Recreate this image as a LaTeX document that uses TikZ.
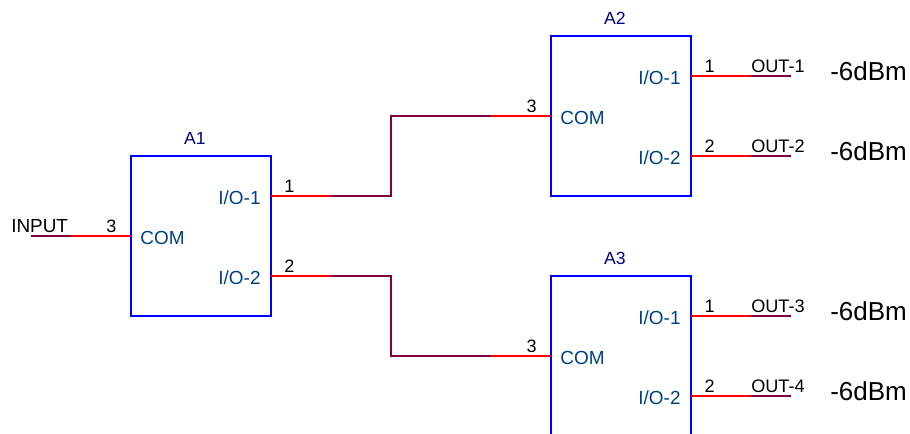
\documentclass[tikz,border=0pt]{standalone}
\usepackage{fontspec}
\setmainfont{Liberation Sans}
\definecolor{boxblue}{HTML}{0000FF}
\definecolor{refnavy}{HTML}{000080}
\definecolor{pinblue}{HTML}{004080}
\definecolor{wirered}{HTML}{FF0000}
\definecolor{wirepurple}{HTML}{800040}
\tikzset{
  block/.style={draw=boxblue,line width=1.5pt,minimum width=105pt,minimum height=120pt,inner sep=0pt,outer sep=0pt,anchor=north west},
  refname/.style={text=refnavy,font=\fontsize{13.2pt}{15pt}\selectfont,inner sep=0pt,anchor=base},
  pinname/.style={text=pinblue,font=\fontsize{14.2pt}{16pt}\selectfont,inner sep=0pt,anchor=base},
  pinnum/.style={text=black,font=\fontsize{13.5pt}{15pt}\selectfont,inner sep=0pt,anchor=base},
  netname/.style={text=black,font=\fontsize{13.6pt}{15pt}\selectfont,inner sep=0pt,anchor=base west},
  inputname/.style={netname,font=\fontsize{14.2pt}{16pt}\selectfont},
  level/.style={text=black,font=\fontsize{19.5pt}{22pt}\selectfont,inner sep=0pt,anchor=base west},
  redwire/.style={draw=wirered,line width=1.5pt},
  purplewire/.style={draw=wirepurple,line width=1.5pt,line join=miter}
}
\begin{document}
\begin{tikzpicture}[x=0.75pt,y=-0.75pt]
\useasboundingbox (0,0) rectangle (910,434);
% blocks
\node[block] (A1) at (131,156) {};
\node[block] (A2) at (551,36) {};
\node[block] (A3) at (551,276) {};
% pin coordinates
\coordinate (A1com) at (A1.north west |- 0,236);
\coordinate (A1io1) at (A1.north east |- 0,196);
\coordinate (A1io2) at (A1.north east |- 0,276);
\coordinate (A2com) at (A2.north west |- 0,116);
\coordinate (A2io1) at (A2.north east |- 0,76);
\coordinate (A2io2) at (A2.north east |- 0,156);
\coordinate (A3com) at (A3.north west |- 0,356);
\coordinate (A3io1) at (A3.north east |- 0,316);
\coordinate (A3io2) at (A3.north east |- 0,396);
% net junctions
\coordinate (inS) at (31,236);   \coordinate (inM) at (71,236);
\coordinate (n1a) at (331,196);  \coordinate (n1b) at (391,196);
\coordinate (n1c) at (391,116);  \coordinate (n1d) at (491,116);
\coordinate (n2a) at (331,276);  \coordinate (n2b) at (391,276);
\coordinate (n2c) at (391,356);  \coordinate (n2d) at (491,356);
\coordinate (o1m) at (751,76);   \coordinate (o1e) at (791,76);
\coordinate (o2m) at (751,156);  \coordinate (o2e) at (791,156);
\coordinate (o3m) at (751,316);  \coordinate (o3e) at (791,316);
\coordinate (o4m) at (751,396);  \coordinate (o4e) at (791,396);
% wires
\draw[purplewire] (inS) -- (inM);
\draw[redwire] (inM) -- (A1com);
\draw[redwire] (A1io1) -- (n1a);
\draw[purplewire] (n1a) -- (n1b) -- (n1c) -- (n1d);
\draw[redwire] (n1d) -- (A2com);
\draw[redwire] (A1io2) -- (n2a);
\draw[purplewire] (n2a) -- (n2b) -- (n2c) -- (n2d);
\draw[redwire] (n2d) -- (A3com);
\draw[redwire] (A2io1) -- (o1m);
\draw[purplewire] (o1m) -- (o1e);
\draw[redwire] (A2io2) -- (o2m);
\draw[purplewire] (o2m) -- (o2e);
\draw[redwire] (A3io1) -- (o3m);
\draw[purplewire] (o3m) -- (o3e);
\draw[redwire] (A3io2) -- (o4m);
\draw[purplewire] (o4m) -- (o4e);
% A1 texts
\node[refname] (tA1) at (195,145) {A1};
\node[pinname] (cA1) at (162.5,244.5) {COM};
\node[pinname] (i1A1) at (239.5,204.5) {I/O-1};
\node[pinname] (i2A1) at (239.5,284.5) {I/O-2};
\node[pinnum] (p3A1) at (111.5,232.5) {3};
\node[pinnum] (p1A1) at (289.5,192.5) {1};
\node[pinnum] (p2A1) at (289.5,272.5) {2};
\node[inputname] (input) at (11,232.5) {INPUT};
% A2 texts
\node[refname] (tA2) at (615,25) {A2};
\node[pinname] (cA2) at (582.5,124.5) {COM};
\node[pinname] (i1A2) at (659.5,84.5) {I/O-1};
\node[pinname] (i2A2) at (659.5,164.5) {I/O-2};
\node[pinnum] (p3A2) at (531.5,112.5) {3};
\node[pinnum] (p1A2) at (709.5,72.5) {1};
\node[pinnum] (p2A2) at (709.5,152.5) {2};
\node[netname] (out1) at (751,72.5) {OUT-1};
\node[netname] (out2) at (751,152.5) {OUT-2};
\node[level] (l1) at (830,80.5) {-6dBm};
\node[level] (l2) at (830,160.5) {-6dBm};
% A3 texts
\node[refname] (tA3) at (615,265) {A3};
\node[pinname] (cA3) at (582.5,364.5) {COM};
\node[pinname] (i1A3) at (659.5,324.5) {I/O-1};
\node[pinname] (i2A3) at (659.5,404.5) {I/O-2};
\node[pinnum] (p3A3) at (531.5,352.5) {3};
\node[pinnum] (p1A3) at (709.5,312.5) {1};
\node[pinnum] (p2A3) at (709.5,392.5) {2};
\node[netname] (out3) at (751,312.5) {OUT-3};
\node[netname] (out4) at (751,392.5) {OUT-4};
\node[level] (l3) at (830,320.5) {-6dBm};
\node[level] (l4) at (830,400.5) {-6dBm};
\end{tikzpicture}
\end{document}
